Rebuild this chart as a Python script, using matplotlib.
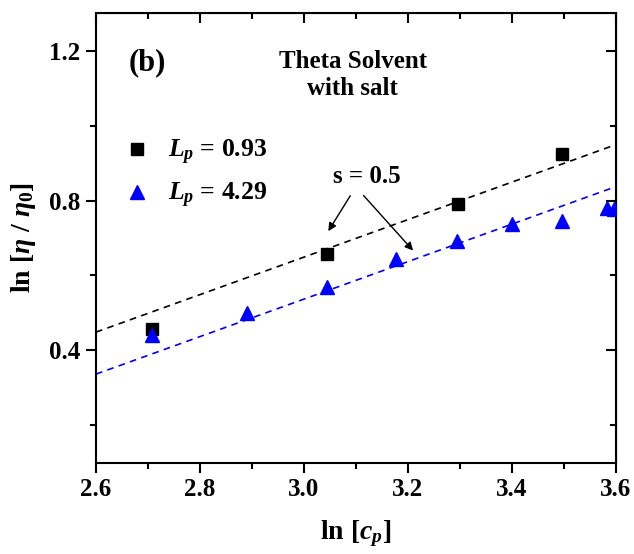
import matplotlib
matplotlib.use("Agg")
import matplotlib.pyplot as plt
import numpy as np

plt.rcParams['font.family'] = 'Liberation Serif'
plt.rcParams['font.weight'] = 'bold'
plt.rcParams['axes.labelweight'] = 'bold'
plt.rcParams['mathtext.fontset'] = 'custom'
plt.rcParams['mathtext.rm'] = 'Liberation Serif:bold'
plt.rcParams['mathtext.bf'] = 'Liberation Serif:bold'
plt.rcParams['mathtext.it'] = 'Liberation Serif:bold:italic'

# data
x_lp093 = [2.708, 3.044, 3.296, 3.497]
y_lp093 = [0.457, 0.656, 0.790, 0.923]

x_lp429 = [2.707, 2.890, 3.044, 3.178, 3.294, 3.401, 3.497, 3.582, 3.596]
y_lp429 = [0.441, 0.499, 0.570, 0.644, 0.693, 0.737, 0.746, 0.781, 0.777]

slope = 0.5
icpt_lp093 = 0.449   # value at x = 2.6
icpt_lp429 = 0.337

fig = plt.figure(figsize=(6.34, 5.54), dpi=100)
ax = fig.add_axes([0.1514, 0.1643, 0.82, 0.8122])

xs = np.array([2.6, 3.6])
ax.plot(xs, icpt_lp093 + slope * (xs - 2.6), color='black', lw=1.2, ls=(0, (4, 3.2)))
ax.plot(xs, icpt_lp429 + slope * (xs - 2.6), color='blue', lw=1.2, ls=(0, (4, 3.2)))

ax.plot(x_lp093, y_lp093, 's', color='black', ms=8.5, label=r'$L_p$ = 0.93', zorder=3)
ax.plot(x_lp429, y_lp429, '^', color='blue', ms=10.5, label=r'$L_p$ = 4.29', zorder=3)

ax.set_xlim(2.6, 3.6)
ax.set_ylim(0.1, 1.3)
ax.set_xticks(np.arange(2.6, 3.61, 0.2))
ax.set_xticks(np.arange(2.7, 3.6, 0.2), minor=True)
ax.set_yticks([0.4, 0.8, 1.2])
ax.set_yticks([0.2, 0.6, 1.0], minor=True)
ax.set_xticklabels(['2.6', '2.8', '3.0', '3.2', '3.4', '3.6'])
ax.set_yticklabels(['0.4', '0.8', '1.2'])

for s in ax.spines.values():
    s.set_linewidth(1.5)
ax.tick_params(which='both', direction='out', width=1.5, labelsize=18, pad=4)
ax.tick_params(which='major', length=7)
ax.tick_params(which='minor', length=4)

# inward ticks on top and right, no labels
top = ax.secondary_xaxis('top')
top.set_xticks(ax.get_xticks())
top.set_xticks(ax.get_xticks(minor=True), minor=True)
top.tick_params(which='both', direction='in', width=1.5, labeltop=False)
top.tick_params(which='major', length=7)
top.tick_params(which='minor', length=4)
right = ax.secondary_yaxis('right')
right.set_yticks(ax.get_yticks())
right.set_yticks(ax.get_yticks(minor=True), minor=True)
right.tick_params(which='both', direction='in', width=1.5, labelright=False)
right.tick_params(which='major', length=7)
right.tick_params(which='minor', length=4)

ax.set_xlabel(r'ln [$c_p$]', fontsize=20, labelpad=12)
ax.set_ylabel(r'ln [$\eta$ / $\eta_0$]', fontsize=20, labelpad=8)

ax.text(0.062, 0.89, '(b)', transform=ax.transAxes, fontsize=22, va='center', ha='left')
ax.text(0.494, 0.862, 'Theta Solvent\nwith salt', transform=ax.transAxes,
        fontsize=18, ha='center', va='center', linespacing=1.2)

ax.legend(loc='upper left', bbox_to_anchor=(0.03, 0.745), frameon=False, fontsize=18.5,
          handletextpad=0.6, labelspacing=0.55, handlelength=1.2, borderaxespad=0)

ax.text(3.12, 0.865, 's = 0.5', fontsize=18, ha='center', va='center')
ax.annotate('', xy=(3.044, 0.712), xytext=(3.092, 0.819),
            arrowprops=dict(arrowstyle='-|>', color='black', lw=1.0, mutation_scale=12))
ax.annotate('', xy=(3.2135, 0.661), xytext=(3.111, 0.819),
            arrowprops=dict(arrowstyle='-|>', color='black', lw=1.0, mutation_scale=12))

fig.savefig('out.png', dpi=100)
